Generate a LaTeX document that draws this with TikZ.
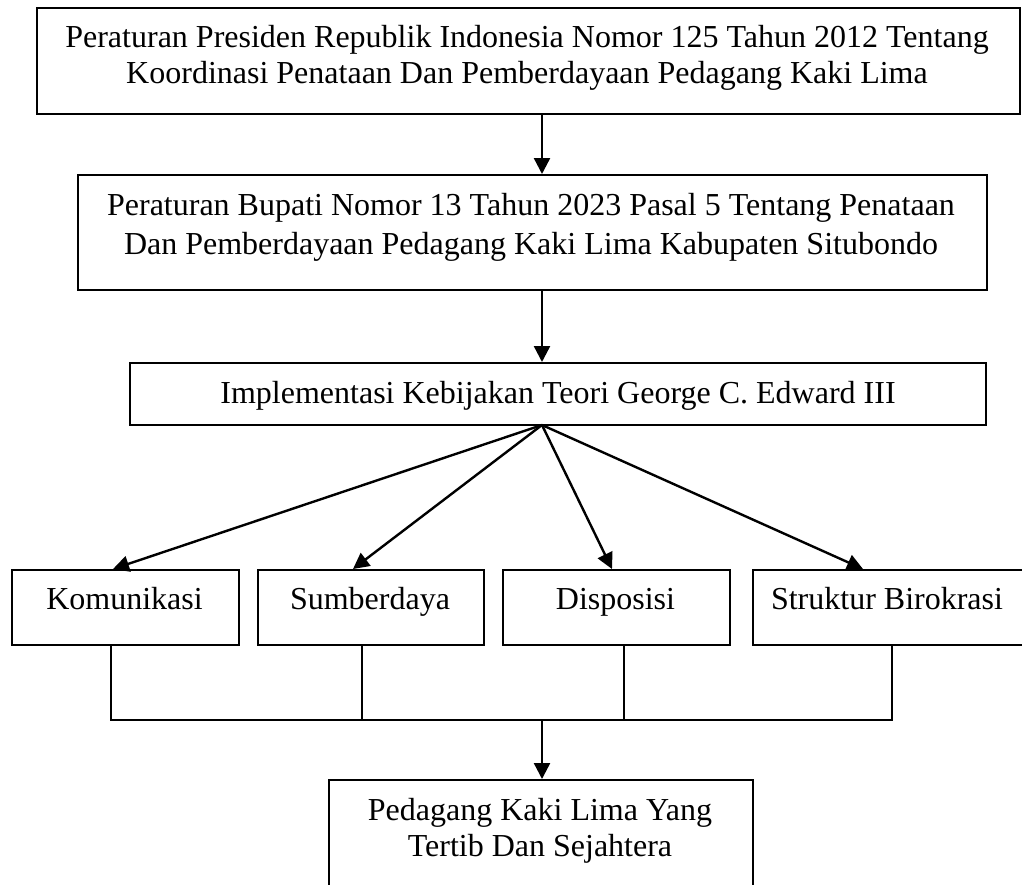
\documentclass[tikz,border=0pt]{standalone}
\usepackage{fontspec}
\setmainfont{Liberation Serif}
\usetikzlibrary{arrows.meta}
\begin{document}
\begin{tikzpicture}[x=1pt,y=-1pt,
  box/.style={draw=black,line width=2.4pt,minimum width=#1,inner sep=0pt,anchor=north west},
  lbl/.style={anchor=base,inner sep=0pt,font=\fontsize{32}{37}\selectfont},
  arr/.style={line width=2.4pt,-{Triangle[length=16pt,width=16pt]}},
  ln/.style={line width=2.4pt}]
\clip (0,0) rectangle (1022,884);
\fill[white] (0,0) rectangle (1022,884);
% boxes
\node[box=983pt,minimum height=106pt] (b1) at (36,7) {};
\node[box=909pt,minimum height=115pt] (b2) at (77,174) {};
\node[box=856pt,minimum height=62pt] (b3) at (129,362) {};
\node[box=227pt,minimum height=75pt] (k) at (11,569) {};
\node[box=226pt,minimum height=75pt] (s) at (257,569) {};
\node[box=227pt,minimum height=75pt] (d) at (502,569) {};
\node[box=270pt,minimum height=75pt] (sb) at (752,569) {};
\node[box=424pt,minimum height=130pt] (f) at (328,779) {};
% texts
\node[lbl] (t1a) at (527,47) {Peraturan Presiden Republik Indonesia Nomor 125 Tahun 2012 Tentang};
\node[lbl] (t1b) at (527,83) {Koordinasi Penataan Dan Pemberdayaan Pedagang Kaki Lima};
\node[lbl] (t2a) at (531,215) {Peraturan Bupati Nomor 13 Tahun 2023 Pasal 5 Tentang Penataan};
\node[lbl] (t2b) at (531,254) {Dan Pemberdayaan Pedagang Kaki Lima Kabupaten Situbondo};
\node[lbl] (t3) at (558,403) {Implementasi Kebijakan Teori George C. Edward III};
\node[lbl] (tk) at (124.5,609) {Komunikasi};
\node[lbl] (ts) at (370,609) {Sumberdaya};
\node[lbl] (td) at (615.5,609) {Disposisi};
\node[lbl] (tsb) at (887,609) {Struktur Birokrasi};
\node[lbl] (tfa) at (540,820) {Pedagang Kaki Lima Yang};
\node[lbl] (tfb) at (540,856) {Tertib Dan Sejahtera};
% coordinates
\coordinate (o) at (542,425);
\coordinate (ka) at (113,569);
\coordinate (sa) at (353,569);
\coordinate (da) at (612,569);
\coordinate (sba) at (863,569);
\coordinate (kb) at (111,720);
\coordinate (sbb) at (892,720);
\coordinate (jm) at (542,720);
% connectors
\draw[arr] (b1.south -| o) -- (b2.north -| o);
\draw[arr] (b2.south -| o) -- (b3.north -| o);
\draw[arr] (o) -- (ka);
\draw[arr] (o) -- (sa);
\draw[arr] (o) -- (da);
\draw[arr] (o) -- (sba);
\draw[ln] (k.south -| kb) -- (kb) -- (sbb) -- (sb.south -| sbb);
\draw[ln] (s.south -| 362,0) -- (362,720);
\draw[ln] (d.south -| 624,0) -- (624,720);
\draw[arr] (jm) -- (f.north -| jm);
\end{tikzpicture}
\end{document}
